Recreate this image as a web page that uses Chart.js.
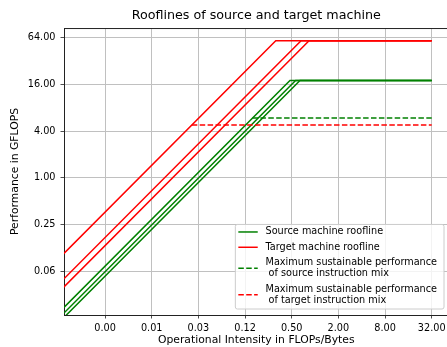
<!DOCTYPE html>
<html>
<head>
<meta charset="utf-8">
<title>Rooflines</title>
<script src="https://cdn.jsdelivr.net/npm/chart.js@4.4.1/dist/chart.umd.min.js"></script>
<style>
  html, body { margin: 0; padding: 0; background: #fff; overflow: hidden; }
  canvas { display: block; }
</style>
</head>
<body>
<canvas id="chart1" width="452" height="347"></canvas>
<script>
// axis ticks (log2 scale, every factor of 4)
const xTicks = [0.001953125, 0.0078125, 0.03125, 0.125, 0.5, 2, 8, 32];
const xTickLabels = ['0.00', '0.01', '0.03', '0.12', '0.50', '2.00', '8.00', '32.00'];
const yTicks = [0.0625, 0.25, 1, 4, 16, 64];
const yTickLabels = ['0.06', '0.25', '1.00', '4.00', '16.00', '64.00'];

// machine parameters in GFLOPS and GB/s
const sourcePeak = 17.9;
const sourceBandwidth = [37.7, 31.9, 28.0];
const targetPeak = 57.9;
const targetBandwidth = [186, 87.7, 69.2];

// maximum sustainable performance of each instruction mix
const sourceMix = 5.88;
const targetMix = 4.78;

// intensity range the roofs are drawn over
const intensityStart = 0.0004;
const intensityEnd = 32;

const legendLabels = [
    'Source machine roofline',
    'Target machine roofline',
    'Maximum sustainable performance\n of source instruction mix',
    'Maximum sustainable performance\n of target instruction mix'
];

const GREEN = '#008000';
const RED = '#ff0000';
const DASH = [5.5, 2.4];

function roofline(peak, bw) {
    return [
        { x: intensityStart, y: bw * intensityStart },
        { x: peak / bw, y: peak },
        { x: intensityEnd, y: peak }
    ];
}

function mixLine(perf, bw) {
    return [
        { x: perf / bw, y: perf },
        { x: intensityEnd, y: perf }
    ];
}

const datasets = [];
sourceBandwidth.forEach(bw => datasets.push({ data: roofline(sourcePeak, bw), borderColor: GREEN, legend: 0 }));
targetBandwidth.forEach(bw => datasets.push({ data: roofline(targetPeak, bw), borderColor: RED, legend: 1 }));
datasets.push({ data: mixLine(sourceMix, Math.max(...sourceBandwidth)), borderColor: GREEN, borderDash: DASH, legend: 2 });
datasets.push({ data: mixLine(targetMix, Math.max(...targetBandwidth)), borderColor: RED, borderDash: DASH, legend: 3 });
// later lines drawn on top
datasets.forEach((ds, i) => {
    ds.order = -i;
    ds.borderWidth = 1.5;
    ds.pointRadius = 0;
    ds.tension = 0;
    ds.fill = false;
});

const FONT = 'DejaVu Sans';
Chart.defaults.font.family = FONT;
Chart.defaults.font.size = 9.7;
Chart.defaults.color = '#000';

function labelFor(ticks, labels) {
    return v => {
        const i = ticks.findIndex(t => Math.abs(t - v) < t * 1e-6);
        return i >= 0 ? labels[i] : '';
    };
}

// top/right edges of the axes box
const framePlugin = {
    id: 'frame',
    afterDraw(chart) {
        const { ctx, chartArea: a } = chart;
        ctx.save();
        ctx.strokeStyle = '#222';
        ctx.lineWidth = 1;
        ctx.beginPath();
        ctx.moveTo(a.left, a.top + 0.5);
        ctx.lineTo(a.right, a.top + 0.5);
        ctx.moveTo(a.right - 0.5, a.top);
        ctx.lineTo(a.right - 0.5, a.bottom);
        ctx.stroke();
        ctx.restore();
    }
};

// legend box in the lower right corner, with multi-line labels
const boxLegend = {
    id: 'boxLegend',
    afterDraw(chart) {
        const { ctx, chartArea: a } = chart;
        const fs = 9.7;
        const handleLen = 19.4, handleGap = 7.8, padL = 3.5, padR = 6.5, padY = 2.8;
        const lineStep = 11.3, rowH = 10.45, rowGap = 4.85;

        ctx.save();
        ctx.font = fs + 'px "' + FONT + '"';
        const rows = legendLabels.map(t => t.split('\n'));
        const textW = Math.max(...rows.flat().map(t => ctx.measureText(t).width));
        const heights = rows.map(r => rowH + (r.length - 1) * lineStep);
        const boxH = padY * 2 + heights.reduce((s, h) => s + h, 0) + rowGap * (rows.length - 1);
        const boxW = padL + handleLen + handleGap + textW + padR;
        const right = a.right - 5;
        const bottom = a.bottom - 6.5;
        const left = right - boxW;
        const top = bottom - boxH;

        ctx.beginPath();
        ctx.roundRect(left + 0.5, top + 0.5, boxW, boxH, 2);
        ctx.fillStyle = 'rgba(255,255,255,0.8)';
        ctx.fill();
        ctx.strokeStyle = '#cccccc';
        ctx.lineWidth = 1;
        ctx.stroke();

        let y = top + padY;
        rows.forEach((lines, i) => {
            const ds = chart.data.datasets.find(d => d.legend === i);
            const midY = y + heights[i] / 2;
            ctx.beginPath();
            ctx.setLineDash(ds.borderDash || []);
            ctx.strokeStyle = ds.borderColor;
            ctx.lineWidth = 1.5;
            ctx.moveTo(left + padL, midY);
            ctx.lineTo(left + padL + handleLen, midY);
            ctx.stroke();
            ctx.setLineDash([]);

            ctx.fillStyle = '#000';
            ctx.textBaseline = 'middle';
            ctx.textAlign = 'left';
            lines.forEach((t, j) => {
                ctx.fillText(t, left + padL + handleLen + handleGap, y + rowH / 2 + j * lineStep);
            });
            y += heights[i] + rowGap;
        });
        ctx.restore();
    }
};

const gridOpts = {
    color: '#c0c0c0',
    lineWidth: 1,
    tickColor: '#222',
    tickLength: 3.5,
    tickWidth: 0.8
};

new Chart(document.getElementById('chart1').getContext('2d'), {
    type: 'line',
    data: { datasets: datasets },
    options: {
        responsive: false,
        animation: false,
        layout: { padding: { left: 0, right: 3.5, top: 0, bottom: 0 } },
        plugins: {
            legend: { display: false },
            tooltip: { enabled: false },
            title: {
                display: true,
                fullSize: false,
                text: 'Rooflines of source and target machine',
                font: { size: 12.7, weight: 'normal' },
                color: '#000',
                padding: { top: 7.8, bottom: 5 }
            }
        },
        scales: {
            x: {
                type: 'logarithmic',
                position: 'bottom',
                bounds: 'data',
                min: Math.pow(2, -10.76),
                max: Math.pow(2, 5.72),
                afterBuildTicks: axis => { axis.ticks = xTicks.map(v => ({ value: v })); },
                afterFit: axis => { axis.height = 32; },
                ticks: {
                    autoSkip: false,
                    maxRotation: 0,
                    minRotation: 0,
                    padding: 4.5,
                    callback: labelFor(xTicks, xTickLabels)
                },
                grid: gridOpts,
                border: { display: true, color: '#222', width: 1 },
                title: {
                    display: true,
                    text: 'Operational Intensity in FLOPs/Bytes',
                    font: { size: 10.8 },
                    padding: { top: 0, bottom: 0 }
                }
            },
            y: {
                type: 'logarithmic',
                position: 'left',
                bounds: 'data',
                min: Math.pow(2, -5.85),
                max: Math.pow(2, 6.397),
                afterBuildTicks: axis => { axis.ticks = yTicks.map(v => ({ value: v })); },
                afterFit: axis => { axis.width = 64; },
                ticks: {
                    autoSkip: false,
                    padding: 5,
                    callback: labelFor(yTicks, yTickLabels)
                },
                grid: gridOpts,
                border: { display: true, color: '#222', width: 1 },
                title: {
                    display: true,
                    text: 'Performance in GFLOPS',
                    font: { size: 10.8 },
                    padding: { top: 8.5, bottom: 0 }
                }
            }
        }
    },
    plugins: [framePlugin, boxLegend]
});
</script>
</body>
</html>
